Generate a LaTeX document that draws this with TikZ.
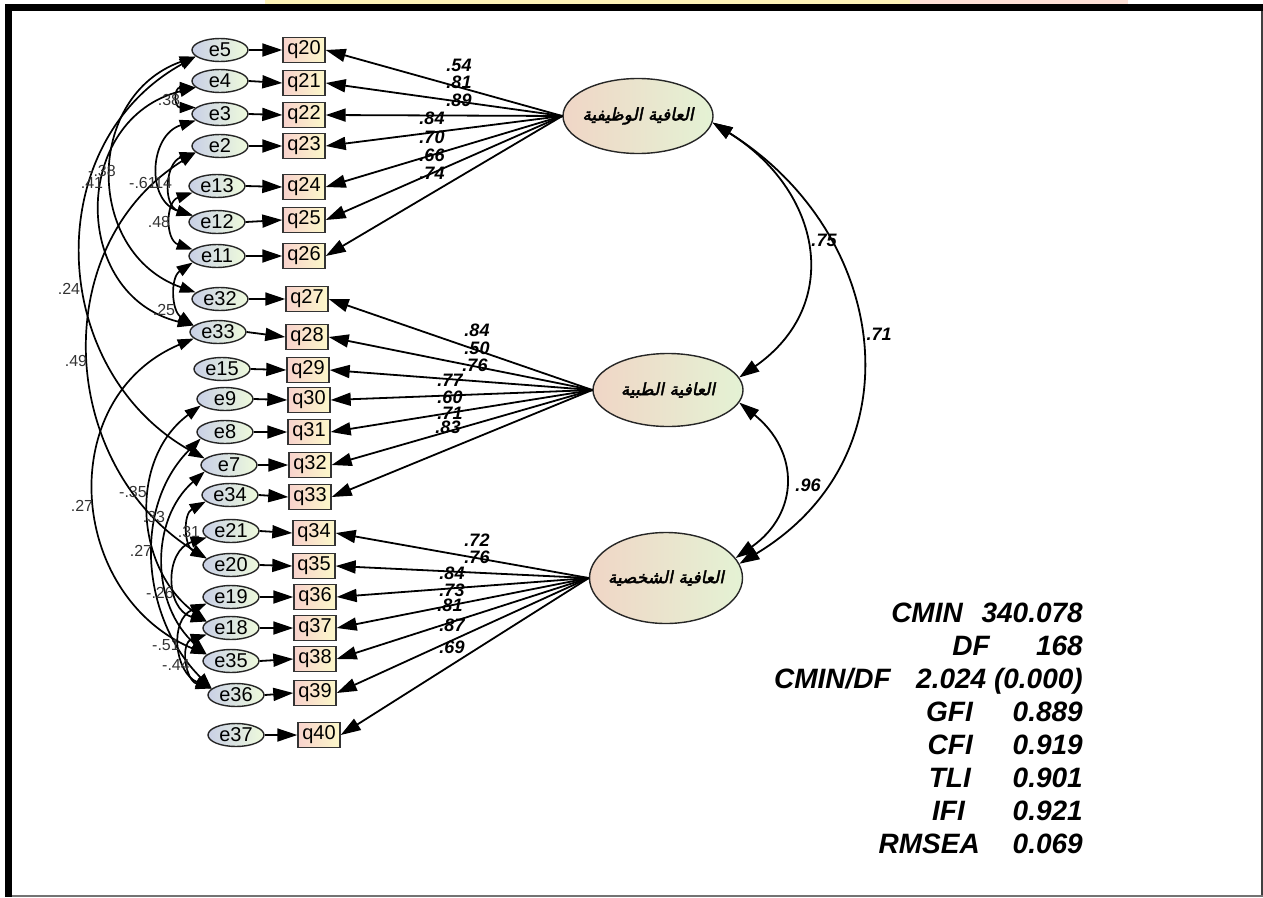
\documentclass[tikz,border=0pt]{standalone}
\usepackage{fontspec}
\setmainfont{Liberation Sans}
\newfontfamily\arabicfont[Script=Arabic,FakeSlant=0.2,FakeBold=2.5]{DejaVu Sans}
\TeXXeTstate=1
\usetikzlibrary{shapes.geometric,arrows.meta}
\definecolor{ebl}{HTML}{C9D0E6}
\definecolor{egr}{HTML}{EEFADC}
\definecolor{qpk}{HTML}{F8D2CC}
\definecolor{qyl}{HTML}{FCF8CA}
\definecolor{fpk}{HTML}{F0D6C6}
\definecolor{fgr}{HTML}{E4F2D4}
\definecolor{hlyel}{HTML}{FDF3B8}
\definecolor{hlpink}{HTML}{FDE0D6}
\begin{document}
\begin{tikzpicture}[x=1pt,y=1pt,
 err/.style={ellipse,draw=black!85,line width=1.4pt,left color=ebl,right color=egr,minimum width=56pt,minimum height=23pt,inner sep=0pt,font=\fontsize{20}{20}\selectfont},
 obs/.style={rectangle,draw=black!80,line width=1.4pt,left color=qpk,right color=qyl,minimum width=42pt,minimum height=25pt,inner sep=0pt,font=\fontsize{20}{20}\selectfont},
 lat/.style={ellipse,draw=black!85,line width=1.4pt,left color=fpk,right color=fgr,inner sep=0pt,font=\arabicfont\fontsize{17}{17}\selectfont},
 ld/.style={line width=1.8pt,-{Triangle[length=20pt,width=13pt]}},
 cov/.style={line width=1.7pt,{Triangle[length=16pt,width=11pt]}-{Triangle[length=16pt,width=11pt]}},
 lcov/.style={line width=1.8pt,{Triangle[length=20pt,width=13pt]}-{Triangle[length=20pt,width=13pt]}},
 wl/.style={font=\fontsize{18}{18}\selectfont\bfseries\itshape,inner sep=0pt},
 cl/.style={font=\fontsize{16}{16}\selectfont,text=black!80,inner sep=0pt},
 st/.style={font=\fontsize{28}{28}\selectfont\bfseries\itshape,anchor=base east,inner sep=0pt}
]
\useasboundingbox (0,0) rectangle (1263,-897);
% highlight strips and frame
\fill[hlyel] (265,0) rectangle (910,-4);
\fill[hlpink] (910,0) rectangle (1128,-4);
\fill[black] (5,-4) rectangle (1263,-11);
\fill[black] (5,-4) rectangle (12,-897);
\fill[black!75] (1261,-11) rectangle (1263,-897);
\fill[black!55] (12,-895) rectangle (1263,-897);

% error terms
\node[err] (e5) at (220,-50) {e5};
\node[err] (e4) at (220,-81) {e4};
\node[err] (e3) at (220,-114) {e3};
\node[err] (e2) at (220,-146) {e2};
\node[err] (e13) at (217,-186) {e13};
\node[err] (e12) at (217,-222) {e12};
\node[err] (e11) at (217,-256) {e11};
\node[err] (e32) at (220,-299) {e32};
\node[err] (e33) at (218,-332) {e33};
\node[err] (e15) at (222,-369) {e15};
\node[err] (e9) at (225,-399) {e9};
\node[err] (e8) at (225,-432) {e8};
\node[err] (e7) at (229,-465) {e7};
\node[err] (e34) at (230,-495) {e34};
\node[err] (e21) at (231,-531) {e21};
\node[err] (e20) at (231,-565) {e20};
\node[err] (e19) at (231,-597) {e19};
\node[err] (e18) at (231,-628) {e18};
\node[err] (e35) at (231,-661) {e35};
\node[err] (e36) at (236,-695) {e36};
\node[err] (e37) at (236,-735) {e37};

% observed
\node[obs] (q20) at (304,-50) {q20};
\node[obs] (q21) at (304,-83) {q21};
\node[obs] (q22) at (304,-115) {q22};
\node[obs] (q23) at (304,-146) {q23};
\node[obs] (q24) at (304,-187) {q24};
\node[obs] (q25) at (304,-220) {q25};
\node[obs] (q26) at (304,-256) {q26};
\node[obs] (q27) at (307,-299) {q27};
\node[obs] (q28) at (307,-337) {q28};
\node[obs] (q29) at (308,-370) {q29};
\node[obs] (q30) at (309,-400) {q30};
\node[obs] (q31) at (309,-432) {q31};
\node[obs] (q32) at (310,-465) {q32};
\node[obs] (q33) at (310,-497) {q33};
\node[obs] (q34) at (314,-533) {q34};
\node[obs] (q35) at (314,-566) {q35};
\node[obs] (q36) at (315,-597) {q36};
\node[obs] (q37) at (315,-628) {q37};
\node[obs] (q38) at (315,-659) {q38};
\node[obs] (q39) at (315,-693) {q39};
\node[obs] (q40) at (319,-735) {q40};

% error -> observed
\draw[ld] (e5.east) -- (q20.west);
\draw[ld] (e4.east) -- (q21.west);
\draw[ld] (e3.east) -- (q22.west);
\draw[ld] (e2.east) -- (q23.west);
\draw[ld] (e13.east) -- (q24.west);
\draw[ld] (e12.east) -- (q25.west);
\draw[ld] (e11.east) -- (q26.west);
\draw[ld] (e32.east) -- (q27.west);
\draw[ld] (e33.east) -- (q28.west);
\draw[ld] (e15.east) -- (q29.west);
\draw[ld] (e9.east) -- (q30.west);
\draw[ld] (e8.east) -- (q31.west);
\draw[ld] (e7.east) -- (q32.west);
\draw[ld] (e34.east) -- (q33.west);
\draw[ld] (e21.east) -- (q34.west);
\draw[ld] (e20.east) -- (q35.west);
\draw[ld] (e19.east) -- (q36.west);
\draw[ld] (e18.east) -- (q37.west);
\draw[ld] (e35.east) -- (q38.west);
\draw[ld] (e36.east) -- (q39.west);
\draw[ld] (e37.east) -- (q40.west);

% latent factors
\node[lat,minimum width=150pt,minimum height=75pt] (F1) at (638,-116) {\makebox[0pt]{\beginR العافية الوظيفية\endR}};
\node[lat,minimum width=150pt,minimum height=73pt] (F2) at (668,-390) {\makebox[0pt]{\beginR العافية الطبية\endR}};
\node[lat,minimum width=153pt,minimum height=91pt] (F3) at (666,-578) {\makebox[0pt]{\beginR العافية الشخصية\endR}};

% loadings
\foreach \i in {20,...,26} \draw[ld] (F1.west) -- (q\i.east);
\foreach \i in {27,...,33} \draw[ld] (F2.west) -- (q\i.east);
\foreach \i in {34,...,40} \draw[ld] (F3.west) -- (q\i.east);

% loading labels
\node[wl] (l20) at (459,-65) {.54};
\node[wl] (l21) at (459,-82) {.81};
\node[wl] (l22) at (459,-100) {.89};
\node[wl] (l23) at (432,-118) {.84};
\node[wl] (l24) at (432,-137) {.70};
\node[wl] (l25) at (432,-155) {.66};
\node[wl] (l26) at (432,-173) {.74};
\node[wl] (l27) at (477,-330) {.84};
\node[wl] (l28) at (477,-348) {.50};
\node[wl] (l29) at (475,-365) {.76};
\node[wl] (l30) at (450,-380) {.77};
\node[wl] (l31) at (450,-397) {.60};
\node[wl] (l32) at (450,-413) {.71};
\node[wl] (l33) at (448,-427) {.83};
\node[wl] (l34) at (477,-540) {.72};
\node[wl] (l35) at (477,-557) {.76};
\node[wl] (l36) at (452,-573) {.84};
\node[wl] (l37) at (452,-590) {.73};
\node[wl] (l38) at (450,-605) {.81};
\node[wl] (l39) at (452,-625) {.87};
\node[wl] (l40) at (452,-647) {.69};

% factor covariances
\draw[lcov] (F1.-5) .. controls +(-32:128) and +(35:128) .. (F2.10);
\draw[lcov] (F1.-5) .. controls +(-32:210) and +(31:210) .. (F3.11);
\draw[lcov] (F2.-10) .. controls +(-39:78) and +(35:78) .. (F3.16);
\node[wl] (c12) at (824,-240) {.75};
\node[wl] (c13) at (879,-334) {.71};
\node[wl] (c23) at (808,-485) {.96};

% error covariances
\draw[cov] (e4.195) .. controls +(180:22) and +(180:22) .. (e3.165);
\draw[cov] (e5.195) .. controls +(199.5:118) and +(160.5:118) .. (e32.165);
\draw[cov] (e4.195) .. controls +(193.8:128) and +(166.2:128) .. (e33.165);
\draw[cov] (e3.195) .. controls +(197.4:49) and +(162.6:49) .. (e12.165);
\draw[cov] (e2.195) .. controls +(198:32) and +(162:32) .. (e12.165);
\draw[cov] (e13.195) .. controls +(199:29) and +(161:29) .. (e11.165);
\draw[cov] (e5.195) .. controls +(209:180) and +(151:180) .. (e7.165);
\draw[cov] (e11.195) .. controls +(213.6:27) and +(146.4:27) .. (e33.165);
\draw[cov] (e2.195) .. controls +(212:176) and +(148:176) .. (e20.165);
\draw[cov] (e33.195) .. controls +(203:152) and +(157:152) .. (e35.165);
\draw[cov] (e9.195) .. controls +(216.6:90) and +(143.4:90) .. (e18.165);
\draw[cov] (e8.195) .. controls +(224.8:98) and +(135.2:98) .. (e36.165);
\draw[cov] (e34.195) .. controls +(208.8:26) and +(151.2:26) .. (e20.165);
\draw[cov] (e7.195) .. controls +(221.3:74) and +(138.7:74) .. (e35.165);
\draw[cov] (e21.195) .. controls +(196.6:44) and +(163.4:44) .. (e18.165);
\draw[cov] (e19.195) .. controls +(203.4:41) and +(156.6:41) .. (e36.165);
\draw[cov] (e18.195) .. controls +(197.4:28) and +(162.6:28) .. (e36.165);

% covariance labels
\node[cl] (k1) at (169,-100) {.38};
\node[cl] (k2) at (102,-171) {-.38};
\node[cl] (k3) at (92,-183) {.41};
\node[cl] (k4) at (143,-183) {-.61};
\node[cl] (k5) at (161,-183) {.14};
\node[cl] (k6) at (159,-222) {.48};
\node[cl] (k7) at (69,-289) {.24};
\node[cl] (k8) at (164,-310) {.25};
\node[cl] (k9) at (76,-361) {.49};
\node[cl] (k10) at (133,-492) {-.35};
\node[cl] (k11) at (82,-506) {.27};
\node[cl] (k12) at (154,-517) {.33};
\node[cl] (k13) at (189,-532) {.31};
\node[cl] (k14) at (141,-551) {.27};
\node[cl] (k15) at (160,-593) {-.26};
\node[cl] (k16) at (166,-645) {-.51};
\node[cl] (k17) at (176,-665) {-.44};

% fit statistics
\node[st] (s1a) at (963,-622) {CMIN};
\node[st] (s1b) at (1083,-622) {340.078};
\node[st] (s2a) at (990,-655) {DF};
\node[st] (s2b) at (1083,-655) {168};
\node[st] (s3a) at (891,-688) {CMIN/DF};
\node[st] (s3b) at (1083,-688) {2.024 (0.000)};
\node[st] (s4a) at (973,-721) {GFI};
\node[st] (s4b) at (1083,-721) {0.889};
\node[st] (s5a) at (973,-754) {CFI};
\node[st] (s5b) at (1083,-754) {0.919};
\node[st] (s6a) at (971,-787) {TLI};
\node[st] (s6b) at (1083,-787) {0.901};
\node[st] (s7a) at (965,-820) {IFI};
\node[st] (s7b) at (1083,-820) {0.921};
\node[st] (s8a) at (980,-853) {RMSEA};
\node[st] (s8b) at (1083,-853) {0.069};
\end{tikzpicture}
\end{document}
